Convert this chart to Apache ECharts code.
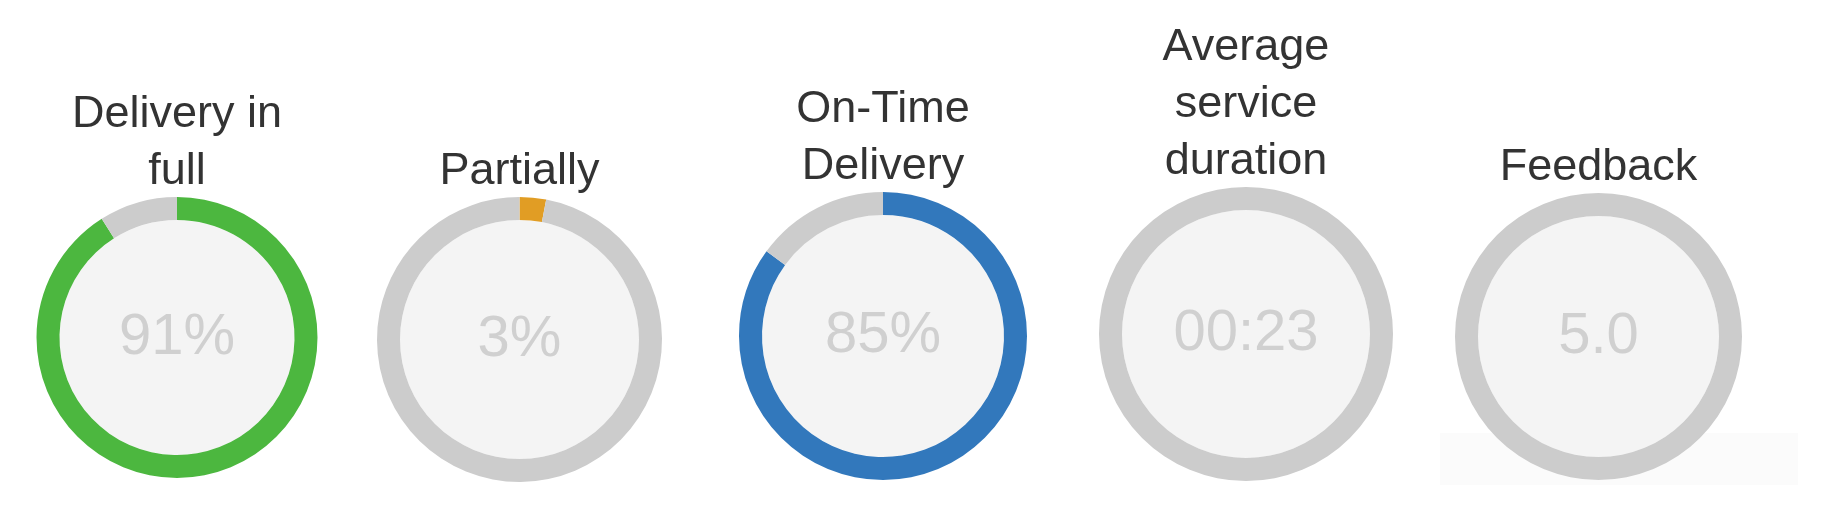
<!DOCTYPE html>
<html>
<head>
<meta charset="utf-8">
<script src="https://cdn.jsdelivr.net/npm/echarts@6/dist/echarts.min.js"></script>
<style>
html,body{margin:0;padding:0;background:#fff;}
#chart{width:1824px;height:510px;}
</style>
</head>
<body>
<div id="chart"></div>
<script>
// ---- data ----
const titles = ['Delivery in\nfull', 'Partially', 'On-Time\nDelivery', 'Average\nservice\nduration', 'Feedback'];
const progress = [91, 3, 85, 0, 0];
const valueLabels = ['91%', '3%', '85%', '00:23', '5.0'];

// ---- layout / style ----
const centersX = [177, 519.5, 883, 1246, 1598.5];
const centersY = [337.5, 339.5, 336, 334, 336.5];
const radii = [140.5, 142.5, 144, 147, 143.5];
const ringWidth = 23;
const accents = ['#4cb73f', '#e19d24', '#3278bc', '#3278bc', '#3278bc'];
const FONT = '"Liberation Sans", Arial, Helvetica, sans-serif';

const chart = echarts.init(document.getElementById('chart'), null, {renderer: 'canvas'});

const series = [];
const title = [];
titles.forEach((t, i) => {
  const c = [centersX[i], centersY[i]];
  const r = radii[i];
  series.push({
    type: 'pie', silent: true, center: c, radius: [0, r - ringWidth],
    z: 2,
    itemStyle: {color: '#f4f4f4', borderWidth: 0},
    label: {show: true, position: 'center', formatter: valueLabels[i],
            color: '#d0d0d0', fontSize: 58, fontFamily: FONT},
    labelLine: {show: false},
    data: [{value: 1, name: t}]
  });
  series.push({
    type: 'pie', silent: true, center: c, radius: [r - ringWidth, r],
    z: 3, startAngle: 90, clockwise: true, avoidLabelOverlap: false,
    label: {show: false}, labelLine: {show: false},
    itemStyle: {borderWidth: 0},
    data: [
      {value: progress[i], itemStyle: {color: accents[i]}},
      {value: 100 - progress[i], itemStyle: {color: '#cccccc'}}
    ]
  });
  title.push({
    text: t, left: c[0], textAlign: 'center',
    bottom: 510 - (c[1] - r) - 3, padding: 0,
    textStyle: {fontSize: 45, lineHeight: 57, fontWeight: 'normal', color: '#333333', fontFamily: FONT}
  });
});

chart.setOption({
  backgroundColor: '#ffffff',
  animation: false,
  title: title,
  graphic: [{
    type: 'rect', z: 0, silent: true,
    shape: {x: 1440, y: 433, width: 358, height: 52},
    style: {fill: '#fbfbfb'}
  }],
  series: series
});
</script>
</body>
</html>
